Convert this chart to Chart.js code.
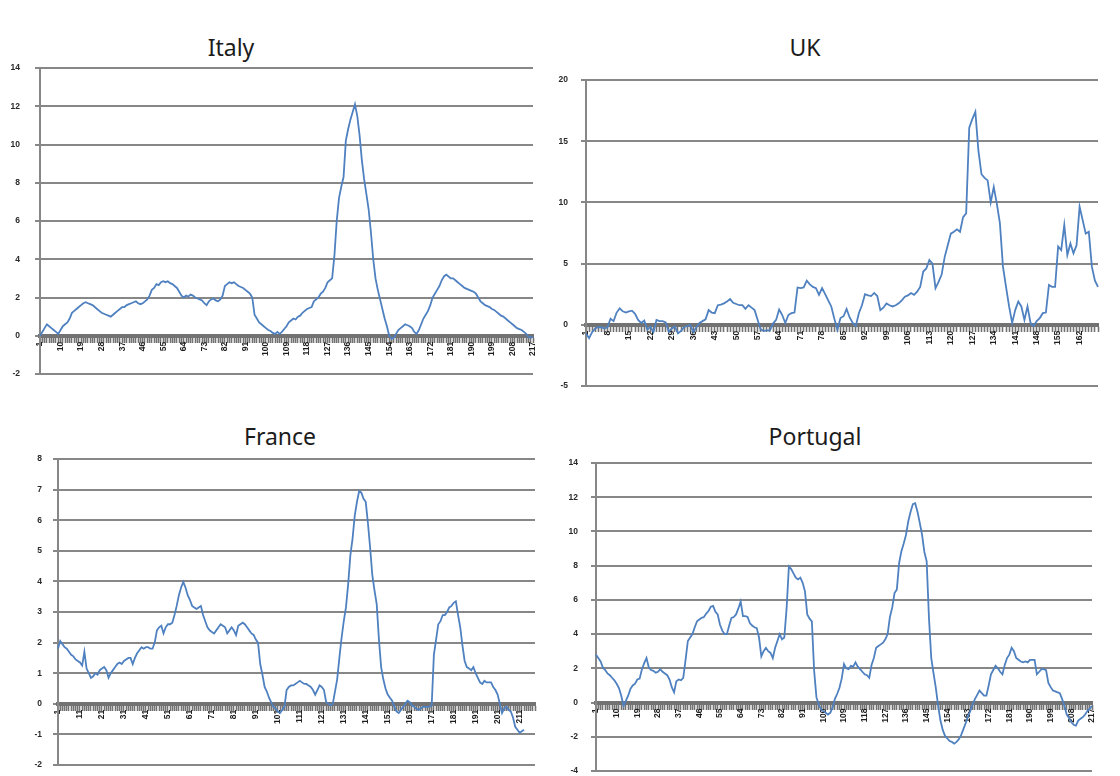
<!DOCTYPE html>
<html lang="en">
<head>
    <meta charset="UTF-8">
    <title>Italy, UK, France, Portugal</title>
    <script src="https://cdn.jsdelivr.net/npm/chart.js"></script>
    <style>
        body {
            margin: 0;
            width: 1120px;
            height: 776px;
            background: #fff;
            position: relative;
            overflow: hidden;
            font-family: "Noto Sans", sans-serif;
        }

        canvas {
            position: absolute;
        }

        .titulo {
            position: absolute;
            font-size: 23px;
            color: #1c1c1c;
            transform: translate(-50%, -50%);
            white-space: nowrap;
        }
    </style>
</head>
<body>

    <div class="titulo" style="left:231px; top:47px;">Italy</div>
    <div class="titulo" style="left:805px; top:47px;">UK</div>
    <div class="titulo" style="left:280px; top:436px;">France</div>
    <div class="titulo" style="left:815px; top:436px;">Portugal</div>

    <canvas id="italy" width="548" height="322" style="left:0px; top:58px;"></canvas>
    <canvas id="uk" width="564" height="322" style="left:548px; top:70px;"></canvas>
    <canvas id="france" width="548" height="322" style="left:0px; top:449px;"></canvas>
    <canvas id="portugal" width="564" height="322" style="left:548px; top:453px;"></canvas>

    <script>
        const italyValues = [
            0.0, 0.2, 0.4, 0.6, 0.5, 0.4, 0.3, 0.2, 0.1, 0.3,
            0.5, 0.6, 0.7, 0.9, 1.2, 1.3, 1.4, 1.5, 1.6, 1.7,
            1.75, 1.7, 1.65, 1.6, 1.5, 1.4, 1.3, 1.2, 1.15, 1.1,
            1.05, 1.0, 1.1, 1.2, 1.3, 1.4, 1.5, 1.5, 1.6, 1.65,
            1.7, 1.75, 1.8, 1.7, 1.65, 1.7, 1.8, 1.9, 2.1, 2.4,
            2.5, 2.7, 2.65, 2.8, 2.85, 2.8, 2.85, 2.75, 2.7, 2.6,
            2.5, 2.3, 2.1, 2.0, 2.1, 2.05, 2.15, 2.1, 2.0, 1.95,
            1.9, 1.85, 1.7, 1.6, 1.8, 1.9, 1.95, 1.85, 1.8, 1.9,
            2.1, 2.6, 2.7, 2.8, 2.75, 2.8, 2.7, 2.6, 2.55, 2.5,
            2.4, 2.3, 2.2, 2.0, 1.1, 0.9, 0.7, 0.6, 0.5, 0.4,
            0.3, 0.25, 0.15, 0.1, 0.2, 0.1, 0.2, 0.35, 0.5, 0.7,
            0.8, 0.9, 0.85, 1.0, 1.05, 1.2, 1.3, 1.4, 1.45, 1.5,
            1.8, 1.9, 2.0, 2.2, 2.3, 2.5, 2.8, 2.9, 3.0, 4.2,
            6.0, 7.2, 7.8, 8.3, 10.2, 10.8, 11.3, 11.7, 12.1, 11.5,
            10.5, 9.2, 8.2, 7.4, 6.6, 5.4, 4.0, 3.0, 2.4, 1.9,
            1.4, 0.9, 0.5, 0.0, -0.15, -0.1, 0.1, 0.3, 0.4, 0.5,
            0.6, 0.55, 0.5, 0.4, 0.2, 0.1, 0.3, 0.6, 0.9, 1.1,
            1.3, 1.6, 2.0, 2.2, 2.4, 2.6, 2.9, 3.1, 3.2, 3.1,
            3.0, 3.0, 2.9, 2.8, 2.7, 2.6, 2.5, 2.45, 2.4, 2.35,
            2.3, 2.2, 2.0, 1.8, 1.7, 1.6, 1.55, 1.5, 1.4, 1.35,
            1.25, 1.15, 1.05, 1.0, 0.9, 0.8, 0.7, 0.6, 0.5, 0.4,
            0.35, 0.3, 0.2, 0.1, -0.05, -0.1, -0.05
        ];

        const ukValues = [
            -0.7, -1.1, -0.6, -0.3, -0.2, -0.2, -0.3, -0.2, 0.5, 0.3,
            1.0, 1.35, 1.1, 1.0, 1.1, 1.15, 0.9, 0.4, 0.15, 0.35,
            -0.4, -0.15, -0.6, 0.4, 0.3, 0.3, 0.2, -0.55, -0.3, -0.15,
            -0.7, -0.5, -0.2, -0.1, 0.0, -0.6, -0.2, 0.15, 0.3, 0.45,
            1.2, 1.0, 0.95, 1.6, 1.65, 1.75, 1.9, 2.1, 1.8, 1.7,
            1.6, 1.6, 1.3, 1.6, 1.4, 1.2, 0.4, -0.4, -0.5, -0.45,
            -0.45, 0.1, 0.4, 1.25, 0.8, 0.15, 0.8, 0.95, 1.0, 3.05,
            3.0, 3.05, 3.6, 3.3, 3.1, 3.0, 2.45, 3.0, 2.5, 2.0,
            1.5, 0.5, -0.4, 0.55, 0.7, 1.3, 0.6, 0.15, -0.1, 0.95,
            1.6, 2.5, 2.4, 2.35, 2.6, 2.35, 1.2, 1.4, 1.75, 1.6,
            1.5, 1.6, 1.75, 2.0, 2.3, 2.4, 2.6, 2.45, 2.7, 3.1,
            4.35, 4.6, 5.3, 5.0, 3.0, 3.5, 4.1, 5.55, 6.5, 7.45,
            7.6, 7.8, 7.6, 8.8, 9.1, 16.1, 16.8, 17.4, 14.2, 12.3,
            12.0, 11.8, 10.0, 11.25, 9.9, 8.3, 4.75, 3.1, 1.5, 0.15,
            1.2, 1.9, 1.5, 0.4, 1.5, 0.15, -0.1, 0.3, 0.55, 0.95,
            1.0, 3.25, 3.1, 3.1, 6.4, 6.1, 8.15, 5.7, 6.65, 5.85,
            6.5, 9.65, 8.55, 7.45, 7.6, 4.75, 3.6, 3.1
        ];

        const franceValues = [
            1.8, 2.05, 1.95, 1.85, 1.8, 1.7, 1.6, 1.55, 1.45, 1.4,
            1.35, 1.25, 1.7, 1.15, 1.0, 0.85, 0.9, 1.0, 0.95, 1.1,
            1.15, 1.2, 1.1, 0.85, 1.0, 1.1, 1.2, 1.3, 1.35, 1.3,
            1.4, 1.45, 1.5, 1.5, 1.3, 1.5, 1.65, 1.75, 1.85, 1.8,
            1.85, 1.85, 1.8, 1.8, 2.0, 2.4, 2.5, 2.55, 2.3, 2.5,
            2.6, 2.6, 2.65, 2.9, 3.2, 3.55, 3.8, 3.98, 3.8, 3.55,
            3.4, 3.2, 3.15, 3.1, 3.15, 3.2, 2.9, 2.7, 2.5, 2.4,
            2.35, 2.3, 2.4, 2.5, 2.6, 2.55, 2.5, 2.3, 2.4, 2.5,
            2.4, 2.25, 2.55, 2.6, 2.65, 2.6, 2.5, 2.4, 2.3, 2.25,
            2.1, 2.0, 1.3, 0.95, 0.55, 0.4, 0.2, 0.05, -0.1, -0.15,
            -0.25, -0.3, -0.2, -0.1, 0.45, 0.55, 0.6, 0.6, 0.65, 0.7,
            0.75, 0.7, 0.65, 0.65, 0.6, 0.55, 0.45, 0.3, 0.45, 0.6,
            0.55, 0.45, 0.05, 0.0, -0.05, 0.0, 0.4, 0.8, 1.5, 2.15,
            2.7, 3.15, 3.9, 4.85, 5.4, 6.15, 6.6, 6.95, 6.9, 6.7,
            6.6, 5.9, 5.1, 4.2, 3.7, 3.25, 2.1, 1.2, 0.8, 0.5,
            0.3, 0.2, 0.1, -0.1, -0.25, -0.3, -0.2, -0.1, 0.0, 0.1,
            0.05, -0.05, -0.1, -0.15, -0.2, -0.15, -0.1, -0.1, -0.1, -0.1,
            -0.05, 1.6, 2.1, 2.6, 2.7, 2.9, 2.9, 3.0, 3.15, 3.2,
            3.3, 3.35, 2.9, 2.5, 1.9, 1.4, 1.2, 1.15, 1.1, 1.2,
            1.0, 0.85, 0.7, 0.65, 0.75, 0.7, 0.7, 0.7, 0.55, 0.45,
            0.3, 0.0, -0.3, -0.15, -0.1, -0.2, -0.25, -0.45, -0.75, -0.85,
            -0.95, -0.9, -0.85
        ];

        const portugalValues = [
            2.8, 2.6, 2.4, 2.05, 1.9, 1.7, 1.6, 1.45, 1.3, 1.1,
            0.85, 0.4, -0.2, 0.1, 0.4, 0.8, 1.0, 1.1, 1.35, 1.4,
            1.95, 2.3, 2.6, 2.05, 1.9, 1.85, 1.75, 1.8, 1.95, 1.8,
            1.7, 1.6, 1.35, 0.9, 0.6, 1.25, 1.35, 1.3, 1.45, 2.5,
            3.6, 3.8, 4.0, 4.4, 4.75, 4.85, 4.95, 5.0, 5.2, 5.35,
            5.6, 5.65, 5.3, 5.15, 4.55, 4.2, 4.0, 4.0, 4.5, 4.95,
            5.0, 5.15, 5.5, 5.9, 5.05, 5.05, 5.0, 4.65, 4.5, 4.4,
            4.35, 3.8, 2.7, 3.0, 3.2, 3.0, 2.9, 2.6, 3.2, 3.6,
            4.0, 3.7, 3.8, 5.5, 7.95, 7.8, 7.55, 7.3, 7.2, 7.3,
            7.0, 6.5, 5.15, 4.9, 4.75, 1.85, 0.3, -0.1, -0.4, -0.5,
            -0.6, -0.7, -0.6, -0.3, 0.2, 0.5, 0.85, 1.4, 2.25, 2.0,
            1.95, 2.15, 2.1, 2.35, 2.1, 1.95, 1.8, 1.65, 1.6, 1.45,
            2.2, 2.6, 3.2, 3.3, 3.4, 3.5, 3.7, 4.0, 5.0, 5.55,
            6.4, 6.6, 8.15, 8.85, 9.3, 9.8, 10.6, 11.15, 11.6, 11.65,
            11.15, 10.5, 9.8, 8.8, 8.25, 4.95, 2.6, 1.7, 0.85, -0.2,
            -1.05, -1.6, -1.95, -2.1, -2.25, -2.3, -2.4, -2.3, -2.15, -1.9,
            -1.55, -1.2, -0.8, -0.5, -0.1, 0.2, 0.45, 0.7, 0.55, 0.4,
            0.4, 1.0, 1.65, 1.9, 2.15, 2.0, 1.8, 1.65, 2.2, 2.6,
            2.8, 3.2, 3.0, 2.6, 2.5, 2.4, 2.35, 2.4, 2.35, 2.5,
            2.5, 2.5, 1.65, 1.8, 1.95, 1.95, 1.9, 1.15, 0.9, 0.7,
            0.65, 0.6, 0.55, 0.2, -0.2, -0.7, -0.9, -1.15, -1.3, -1.35,
            -1.05, -0.95, -0.85, -0.7, -0.5, -0.35, -0.2
        ];

        // nº de categorias no eixo x (a França tem algumas vazias no fim)
        const italyAxisLength = italyValues.length;
        const ukAxisLength = ukValues.length;
        const franceAxisLength = 218;
        const portugalAxisLength = portugalValues.length;

        // categorias: 1, 2, 3 ...
        const italyLabels = Array.from({ length: italyAxisLength }, (v, i) => String(i + 1));
        const ukLabels = Array.from({ length: ukAxisLength }, (v, i) => String(i + 1));
        const franceLabels = Array.from({ length: franceAxisLength }, (v, i) => String(i + 1));
        const portugalLabels = Array.from({ length: portugalAxisLength }, (v, i) => String(i + 1));

        // passo dos rótulos do eixo x e faixa do eixo y [min, max, passo]
        const italyTickStep = 9;
        const ukTickStep = 7;
        const franceTickStep = 10;
        const portugalTickStep = 9;

        const italyRange = [-2, 14, 2];
        const ukRange = [-5, 20, 5];
        const franceRange = [-2, 8, 1];
        const portugalRange = [-4, 14, 2];

        const corLinha = "#4f81c0";
        const corGrade = "#878787";
        const corEixo = "#727272";

        function criarGrafico(id, labels, valores, passo, faixa, largY, padTick, padding) {
            const ctx = document.getElementById(id).getContext("2d");
            return new Chart(ctx, {
                type: "line",
                data: {
                    labels: labels,
                    datasets: [{
                        data: valores,
                        borderColor: corLinha,
                        borderWidth: 1.8,
                        pointRadius: 0,
                        tension: 0,
                        fill: false
                    }]
                },
                options: {
                    responsive: false,
                    animation: false,
                    layout: { padding: padding },
                    plugins: {
                        legend: { display: false },
                        tooltip: { enabled: false }
                    },
                    scales: {
                        x: {
                            type: "category",
                            position: { y: 0 },
                            offset: false,
                            grid: {
                                drawOnChartArea: false,
                                drawTicks: true,
                                tickLength: 5,
                                tickWidth: 1.6,
                                tickColor: corEixo
                            },
                            border: { color: corEixo, width: 4 },
                            ticks: {
                                autoSkip: false,
                                minRotation: 90,
                                maxRotation: 90,
                                padding: 1,
                                color: "#1e1e1e",
                                font: { family: "Liberation Sans", size: 8.5, weight: "bold" },
                                callback: (v, i) => i % passo === 0 ? labels[i] : ""
                            }
                        },
                        y: {
                            min: faixa[0],
                            max: faixa[1],
                            // largura fixa do eixo; sem folga extra acima/abaixo
                            afterFit: s => {
                                s.width = largY;
                                s.paddingTop = 0;
                                s.paddingBottom = 0;
                            },
                            grid: {
                                color: corGrade,
                                lineWidth: 2,
                                tickLength: 5
                            },
                            border: { color: corGrade, width: 2 },
                            ticks: {
                                stepSize: faixa[2],
                                padding: padTick,
                                color: "#2a2a2a",
                                font: { family: "Liberation Sans", size: 8.5, weight: "bold" }
                            }
                        }
                    }
                }
            });
        }

        criarGrafico("italy", italyLabels, italyValues, italyTickStep, italyRange, 40, 15,
            { top: 10, right: 15, bottom: 6, left: 0 });
        criarGrafico("uk", ukLabels, ukValues, ukTickStep, ukRange, 38, 13,
            { top: 10, right: 14, bottom: 6, left: 0 });
        criarGrafico("france", franceLabels, franceValues, franceTickStep, franceRange, 58, 11,
            { top: 10, right: 13, bottom: 6, left: 0 });
        criarGrafico("portugal", portugalLabels, portugalValues, portugalTickStep, portugalRange, 48, 13,
            { top: 10, right: 20, bottom: 4, left: 0 });
    </script>

</body>
</html>
